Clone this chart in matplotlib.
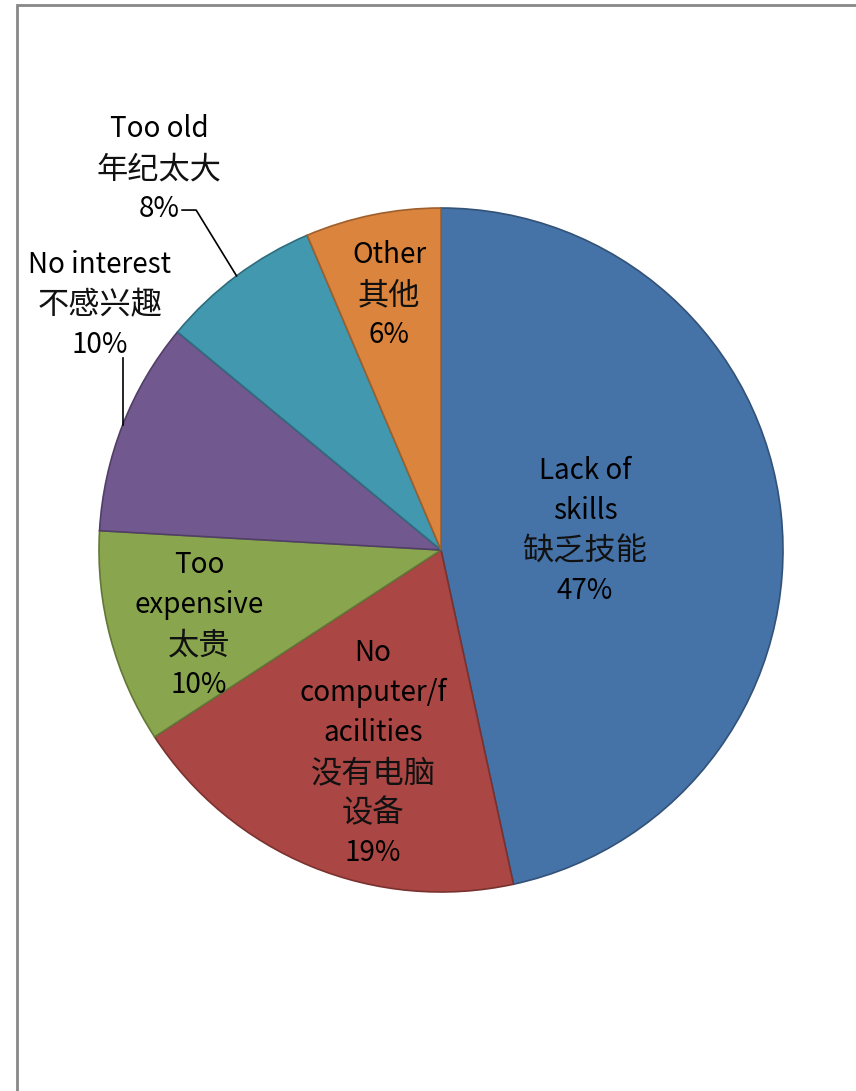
import matplotlib
matplotlib.use("Agg")
import matplotlib.pyplot as plt
import matplotlib.patches as mpatches
import matplotlib.colors as mcolors
import numpy as np

plt.rcParams['font.family'] = ['Noto Sans CJK SC', 'DejaVu Sans']

categories = ["Lack of\nskills\n缺乏技能", "No\ncomputer/f\nacilities\n没有电脑\n设备",
              "Too\nexpensive\n太贵", "No interest\n不感兴趣", "Too old\n年纪太大", "Other\n其他"]
values = [46.6, 19.2, 10.1, 10.1, 7.6, 6.4]
colors = ["#4572A7", "#AA4643", "#89A54E", "#71588F", "#4198AF", "#DB843D"]

# label positions (layout, data units relative to unit pie)
label_pos = [(0.421, 0.055), (-0.199, -0.594), (-0.708, -0.220),
             (-0.997, 0.716), (-0.825, 1.114), (-0.152, 0.745)]
leader = [None, None, None, "vert", "elbow", None]

W, H = 856, 1091
fig = plt.figure(figsize=(W / 100, H / 100), dpi=100)
fig.patch.set_facecolor("white")

cx, cy, r = 441, 550, 342
ax = fig.add_axes([(cx - r) / W, (H - cy - r) / H, 2 * r / W, 2 * r / H])

edge = [tuple(np.array(mcolors.to_rgb(c)) * 0.72) for c in colors]
wedges, _ = ax.pie(values, colors=colors, startangle=90, counterclock=False,
                   radius=1.0, wedgeprops=dict(linewidth=1.2))
for w, ec in zip(wedges, edge):
    w.set_edgecolor(ec)
ax.set_xlim(-1, 1)
ax.set_ylim(-1, 1)
ax.set_aspect("equal")
ax.axis("off")


def is_cjk(s):
    return any(ord(ch) > 0x2E80 for ch in s)


total = sum(values)
step = 40 / r
for w, cat, v, (lx, ly), ld in zip(wedges, categories, values, label_pos, leader):
    lines = cat.split("\n") + [f"{round(v / total * 100):.0f}%"]
    n = len(lines)
    for k, line in enumerate(lines):
        yy = ly + ((n - 1) / 2 - k) * step
        if is_cjk(line):
            ax.text(lx, yy, line, ha="center", va="center", fontsize=22.5,
                    fontweight="light", color="#111111", clip_on=False)
        else:
            ax.text(lx, yy, line, ha="center", va="center", fontsize=20,
                    color="black", clip_on=False)
    mid = np.deg2rad((w.theta1 + w.theta2) / 2)
    ex, ey = np.cos(mid), np.sin(mid)
    if ld == "elbow":
        ax.plot([-0.757, -0.716, ex], [0.994, 0.994, ey], color="black",
                lw=1.2, clip_on=False)
    elif ld == "vert":
        ax.plot([ex, ex], [0.56, ey], color="black", lw=1.2, clip_on=False)

# outer frame of the chart area
frame = mpatches.Rectangle((17 / W, -0.1), 1.2, (H - 5) / H + 0.1,
                           transform=fig.transFigure, fill=False,
                           edgecolor="#888888", linewidth=2)
fig.add_artist(frame)

fig.savefig("out.png", dpi=100, facecolor="white")
